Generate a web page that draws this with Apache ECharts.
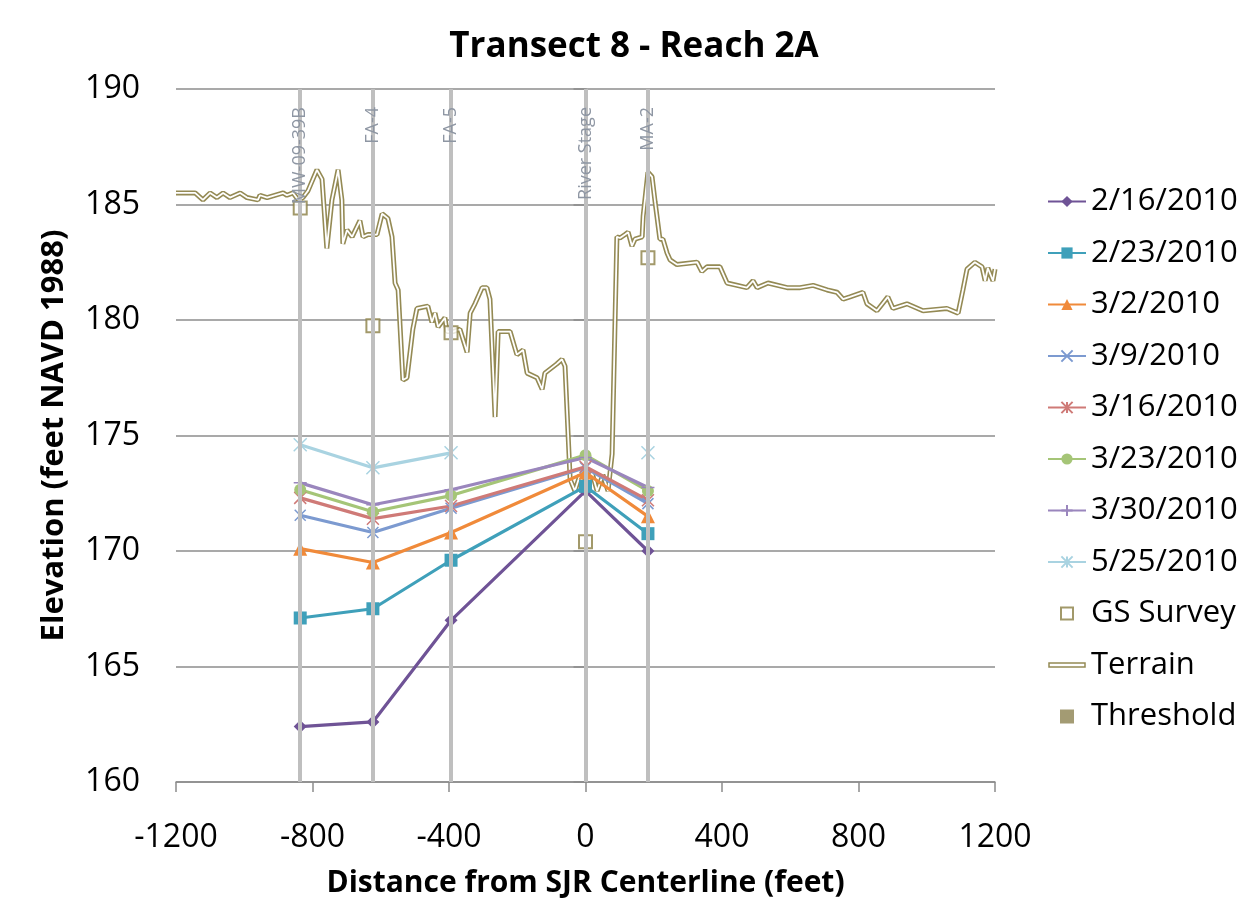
<!DOCTYPE html>
<html>
<head>
<meta charset="utf-8">
<title>Transect 8 - Reach 2A</title>
<script src="https://cdn.jsdelivr.net/npm/echarts@6/dist/echarts.min.js"></script>
<style>
  html, body { margin: 0; padding: 0; background: #fff; }
  #chart { width: 1251px; height: 907px; }
</style>
</head>
<body>
<div id="chart"></div>
<script>
// well locations (distance from centerline, feet) and their labels
const wellX = [-836, -623, -394, 0, 183];
const wellNames = ['MW-09-39B', 'FA-4', 'FA-5', 'River Stage', 'MA-2'];

// groundwater elevations at each well, per date
const dates = ['2/16/2010', '2/23/2010', '3/2/2010', '3/9/2010', '3/16/2010', '3/23/2010', '3/30/2010', '5/25/2010'];
const d0216 = [162.4, 162.6, 167.0, 172.6, 170.0];
const d0223 = [167.1, 167.5, 169.6, 172.8, 170.75];
const d0302 = [170.1, 169.5, 170.8, 173.4, 171.5];
const d0309 = [171.55, 170.8, 171.85, 173.6, 172.05];
const d0316 = [172.3, 171.4, 171.95, 173.65, 172.2];
const d0323 = [172.65, 171.7, 172.4, 174.15, 172.6];
const d0330 = [172.95, 172.0, 172.65, 174.05, 172.75];
const d0525 = [174.6, 173.6, 174.25, null, 174.25];

// ground surface survey at the wells
const gsSurvey = [184.85, 179.75, 179.45, 170.4, 182.7];

// terrain profile
const terrainX = [-1200, -1197, -1144, -1121, -1100, -1080, -1062, -1042, -1012, -992, -960, -954, -933, -886, -875, -857, -842, -828, -813, -787, -772, -758, -743, -725, -714, -711, -699, -684, -661, -652, -637, -611, -596, -579, -567, -558, -549, -535, -523, -506, -494, -462, -450, -441, -432, -412, -406, -388, -368, -347, -338, -324, -303, -289, -280, -265, -256, -221, -201, -183, -171, -142, -127, -119, -84, -69, -60, -45, -31, -16, -1, 19, 34, 51, 66, 78, 92, 101, 116, 125, 136, 145, 166, 169, 183, 195, 204, 218, 227, 239, 248, 268, 327, 341, 356, 394, 415, 473, 491, 503, 535, 591, 629, 667, 708, 737, 755, 775, 813, 825, 854, 886, 901, 942, 989, 1059, 1092, 1106, 1118, 1141, 1162, 1171, 1179, 1194, 1200];
const terrainY = [185.5, 185.5, 185.5, 185.2, 185.5, 185.3, 185.5, 185.3, 185.5, 185.3, 185.2, 185.4, 185.3, 185.5, 185.4, 185.5, 185.2, 185.3, 185.6, 186.5, 186.1, 183.1, 185.2, 186.5, 185.2, 183.3, 183.9, 183.6, 184.3, 183.6, 183.7, 183.7, 184.6, 184.4, 183.6, 181.6, 181.3, 177.4, 177.5, 179.6, 180.5, 180.6, 179.9, 180.3, 179.7, 180.1, 179.5, 179.5, 179.6, 178.6, 180.3, 180.7, 181.4, 181.4, 180.9, 175.8, 179.5, 179.5, 178.5, 178.7, 177.7, 177.5, 177.0, 177.7, 178.1, 178.3, 178.0, 173.1, 172.6, 173.3, 172.6, 173.4, 172.6, 173.3, 172.6, 174.2, 183.6, 183.55, 183.7, 183.8, 183.2, 183.5, 183.6, 184.5, 186.4, 186.2, 185.1, 183.5, 183.5, 182.9, 182.6, 182.4, 182.5, 182.1, 182.3, 182.3, 181.6, 181.4, 181.7, 181.4, 181.6, 181.4, 181.4, 181.5, 181.3, 181.2, 180.9, 181.0, 181.2, 180.7, 180.4, 181.0, 180.5, 180.7, 180.4, 180.5, 180.3, 181.3, 182.2, 182.5, 182.3, 181.7, 182.25, 181.7, 182.2];

const FONT = 'Open Sans';
const OLIVE = '#948a54';

function pairs(xs, ys) {
  return xs.map(function (x, i) { return [x, ys[i] == null ? '-' : ys[i]]; });
}

const symX = 'path://M0,0L10,10M10,0L0,10';
const symStar = 'path://M5,0L5,10M0,0L10,10M10,0L0,10';
const symPlus = 'path://M5,0L5,10M0,5L10,5';

// legend icons padded to the full 38x14 box so the shapes keep their size
const iconSquare = 'path://M0,0L0,0M38,14L38,14M13,1h12v12h-12z';
const iconTerrain = 'path://M0,0L0,0M38,14L38,14M1,5h36v4h-36z';
const iconFilled = 'path://M0,0L0,0M38,14L38,14M12,0h14v14h-14z';

// per-date style: colour, marker, marker size
const dateStyle = [
  ['#6f5396', 'diamond', 13],
  ['#3fa0ba', 'rect', 13],
  ['#f08a3a', 'triangle', 14],
  ['#7c9ad0', symX, 11],
  ['#cf7a77', symStar, 12],
  ['#a5c577', 'circle', 12],
  ['#9a86bd', symPlus, 13],
  ['#a9d3e1', symStar, 13]
];
const dateValues = [d0216, d0223, d0302, d0309, d0316, d0323, d0330, d0525];

const chart = echarts.init(document.getElementById('chart'));

const series = [];

// vertical well lines (drawn below everything else)
series.push({
  name: 'wells',
  type: 'line',
  data: [],
  z: 1,
  markLine: {
    silent: true,
    symbol: 'none',
    animation: false,
    lineStyle: { color: '#bfbfbf', width: 4, type: 'solid' },
    label: {
      show: true,
      position: 'insideEnd',
      distance: 18,
      color: '#8e96a3',
      fontFamily: FONT,
      fontSize: 18,
      formatter: function (p) { return p.name; }
    },
    data: wellX.map(function (x, i) { return { name: wellNames[i], xAxis: x }; })
  }
});

// terrain drawn twice (olive then white) to get the double line
series.push({
  name: 'Terrain',
  type: 'line',
  data: pairs(terrainX, terrainY),
  showSymbol: false,
  symbol: 'none',
  z: 2,
  lineStyle: { color: OLIVE, width: 5 },
  itemStyle: { color: OLIVE }
});
series.push({
  name: 'Terrain',
  type: 'line',
  data: pairs(terrainX, terrainY),
  showSymbol: false,
  symbol: 'none',
  z: 2,
  lineStyle: { color: '#ffffff', width: 1.8 },
  itemStyle: { color: OLIVE }
});

dates.forEach(function (name, i) {
  const st = dateStyle[i];
  const isPath = st[1].indexOf('path://') === 0;
  series.push({
    name: name,
    type: 'line',
    data: pairs(wellX, dateValues[i]),
    z: 3,
    symbol: st[1],
    symbolSize: st[2],
    showAllSymbol: true,
    connectNulls: false,
    lineStyle: { color: st[0], width: 3.2 },
    itemStyle: isPath
      ? { color: st[0], borderColor: st[0], borderWidth: 1.5 }
      : { color: st[0] }
  });
});

series.push({
  name: 'GS Survey',
  type: 'scatter',
  data: pairs(wellX, gsSurvey),
  z: 4,
  symbol: 'rect',
  symbolSize: 13,
  itemStyle: { color: '#ffffff', borderColor: '#8b7f45', borderWidth: 2 }
});

series.push({
  name: 'Threshold',
  type: 'scatter',
  data: [],
  symbol: 'rect',
  symbolSize: 13,
  itemStyle: { color: '#8c8250' }
});

const legendData = dates.map(function (d) { return { name: d }; }).concat([
  { name: 'GS Survey', icon: iconSquare, itemStyle: { color: '#ffffff', borderColor: '#8b7f45', borderWidth: 2 } },
  { name: 'Terrain', icon: iconTerrain, itemStyle: { color: '#ffffff', borderColor: OLIVE, borderWidth: 1.5 } },
  { name: 'Threshold', icon: iconFilled, itemStyle: { color: '#8c8250' } }
]);

chart.setOption({
  animation: false,
  backgroundColor: '#fff',
  textStyle: { fontFamily: FONT },
  title: {
    text: 'Transect 8 - Reach 2A',
    left: 629,
    top: 25,
    textAlign: 'center',
    textStyle: { fontFamily: FONT, fontWeight: 'bold', fontSize: 35, color: '#000' }
  },
  grid: { left: 176, right: 256, top: 89, bottom: 125, containLabel: false },
  legend: {
    orient: 'vertical',
    left: 1042,
    top: 181,
    itemWidth: 38,
    itemHeight: 14,
    itemGap: 20.5,
    data: legendData,
    textStyle: { fontFamily: FONT, fontSize: 31, color: '#000', lineHeight: 31 }
  },
  xAxis: {
    type: 'value',
    min: -1200,
    max: 1200,
    interval: 400,
    name: 'Distance from SJR Centerline (feet)',
    nameLocation: 'middle',
    nameGap: 86,
    nameTextStyle: { fontFamily: FONT, fontWeight: 'bold', fontSize: 30, color: '#000' },
    axisLine: { onZero: false, lineStyle: { color: '#8c8c8c', width: 1.5 } },
    axisTick: { show: true, length: 10, lineStyle: { color: '#8c8c8c', width: 1.5 } },
    axisLabel: { margin: 40, fontFamily: FONT, fontSize: 32, color: '#000', formatter: function (v) { return String(v); } },
    splitLine: { show: false }
  },
  yAxis: {
    type: 'value',
    min: 160,
    max: 190,
    interval: 5,
    name: 'Elevation (feet NAVD 1988)',
    nameLocation: 'middle',
    nameGap: 106,
    nameTextStyle: { fontFamily: FONT, fontWeight: 'bold', fontSize: 31, color: '#000' },
    axisLine: { show: true, lineStyle: { color: '#8c8c8c', width: 1.5 } },
    axisTick: { show: true, length: 12, lineStyle: { color: '#8c8c8c', width: 1.5 } },
    axisLabel: { margin: 36, fontFamily: FONT, fontSize: 32, color: '#000' },
    splitLine: { show: true, lineStyle: { color: '#8c8c8c', width: 1.5 } }
  },
  series: series
});
</script>
</body>
</html>
